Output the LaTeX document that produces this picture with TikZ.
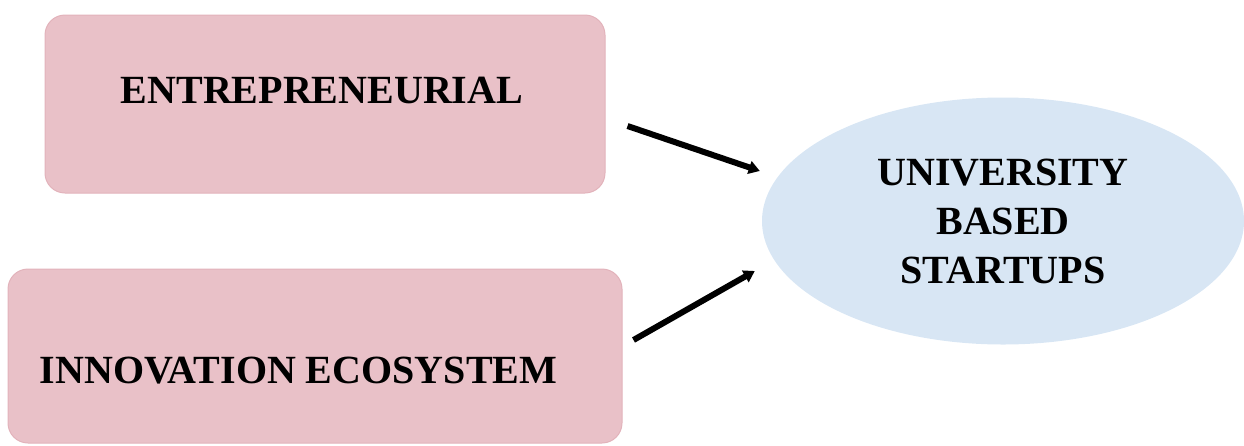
\documentclass[tikz,border=0pt]{standalone}
\usepackage{fontspec}
\setmainfont{Liberation Serif}
\usepackage{xcolor}
\definecolor{boxpink}{HTML}{E9C1C8}
\definecolor{boxpinkedge}{HTML}{E2B3BB}
\definecolor{ovalblue}{HTML}{D8E6F4}
\usetikzlibrary{arrows.meta, positioning, shapes.geometric}

\begin{document}
\begin{tikzpicture}[
    node distance=75pt and 140pt,
    box/.style={draw=boxpinkedge, fill=boxpink, rounded corners=20pt, line width=1pt, inner sep=0pt},
    oval/.style={ellipse, fill=ovalblue, inner sep=0pt, minimum width=482pt, minimum height=247pt, align=center},
    bigtxt/.style={font=\fontsize{40}{49}\selectfont\bfseries, inner sep=0pt},
    arr/.style={-{Triangle[length=11pt,width=13pt]}, line width=6pt, black},
]
\useasboundingbox (0,0) rectangle (1244pt,-445pt);

\node[box, minimum width=560pt, minimum height=178pt] (ent) at (325pt,-104pt) {};
\node[box, minimum width=614pt, minimum height=174pt, below=75pt of ent, xshift=-10pt] (inno) {};
\node[oval, bigtxt] (ubs) at (1003pt,-221pt) {UNIVERSITY\\BASED\\STARTUPS};

\node[bigtxt] (enttext) at ([xshift=-3pt,yshift=14pt]ent.center) {ENTREPRENEURIAL};
\node[bigtxt, anchor=west] (innotext) at ([xshift=32pt,yshift=-15pt]inno.west) {INNOVATION ECOSYSTEM};

\draw[arr] ([xshift=22pt,yshift=-22pt]ent.east) -- ([xshift=-2pt,yshift=50pt]ubs.west);
\draw[arr] ([xshift=11pt,yshift=16pt]inno.east) -- ([xshift=-7pt,yshift=-50pt]ubs.west);
\end{tikzpicture}
\end{document}
